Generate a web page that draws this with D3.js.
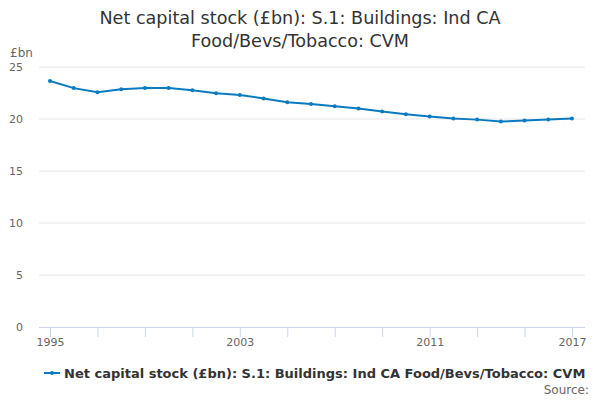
<!DOCTYPE html>
<html>
<head>
<meta charset="utf-8">
<script src="https://cdn.jsdelivr.net/npm/d3@7"></script>
<style>
  body { margin: 0; background: #fff; }
  svg { font-family: "DejaVu Sans", sans-serif; }
</style>
</head>
<body>
<div id="chart"></div>
<script>
const years = d3.range(1995, 2018);
const values = [23.66, 22.97, 22.58, 22.85, 22.97, 22.97, 22.77, 22.48, 22.3, 21.98, 21.6, 21.44,
                21.22, 21.01, 20.73, 20.45, 20.25, 20.04, 19.94, 19.76, 19.85, 19.95, 20.04];
const yTicks = [0, 5, 10, 15, 20, 25];
const xTicks = d3.range(1995, 2018, 2);
const xLabels = [1995, 2003, 2011, 2017];
const seriesName = "Net capital stock (£bn): S.1: Buildings: Ind CA Food/Bevs/Tobacco: CVM";
const titleLines = ["Net capital stock (£bn): S.1: Buildings: Ind CA", "Food/Bevs/Tobacco: CVM"];

const width = 600, height = 400;
const plotLeft = 39, plotRight = 585, plotTop = 67, plotBottom = 327;
const blue = "#0b7bc1";

const svg = d3.select("#chart").append("svg")
  .attr("width", width).attr("height", height)
  .attr("viewBox", [0, 0, width, height]);

const x = d3.scaleLinear().domain([1995, 2017]).range([50, 572]);
const y = d3.scaleLinear().domain([0, 25]).range([plotBottom, plotTop]);

// title
svg.append("text")
  .attr("x", width / 2).attr("y", 24)
  .attr("text-anchor", "middle")
  .attr("fill", "#333").style("font-size", "17.6px")
  .selectAll("tspan").data(titleLines).join("tspan")
  .attr("x", width / 2).attr("dy", (d, i) => i ? 23 : 0)
  .text(d => d);

// grid
svg.append("g").selectAll("line").data(yTicks.filter(d => d > 0)).join("line")
  .attr("x1", plotLeft).attr("x2", plotRight)
  .attr("y1", d => y(d)).attr("y2", d => y(d))
  .attr("stroke", "#e6e6e6");

// y axis labels
svg.append("g").selectAll("text").data(yTicks).join("text")
  .attr("x", 23).attr("y", d => y(d) + 4)
  .attr("text-anchor", "end")
  .attr("fill", "#666").style("font-size", "11px")
  .text(d => d);

svg.append("text").attr("x", 10).attr("y", 57)
  .attr("fill", "#666").style("font-size", "12px").text("£bn");

// x axis
const xAxis = svg.append("g")
  .attr("transform", `translate(0,${plotBottom})`)
  .call(d3.axisBottom(x).tickValues(xTicks).tickSize(10)
    .tickFormat(d => xLabels.includes(d) ? d : ""));
xAxis.select(".domain").remove();
xAxis.selectAll(".tick line").attr("stroke", "#ccd6eb");
xAxis.selectAll(".tick text").attr("fill", "#666").attr("y", 11)
  .style("font-size", "11px").style("font-family", "DejaVu Sans, sans-serif");
svg.append("line")
  .attr("x1", plotLeft).attr("x2", plotRight)
  .attr("y1", plotBottom + 0.5).attr("y2", plotBottom + 0.5)
  .attr("stroke", "#ccd6eb");

// series
const data = years.map((d, i) => ({ year: d, value: values[i] }));
svg.append("path").datum(data)
  .attr("fill", "none").attr("stroke", blue).attr("stroke-width", 2)
  .attr("d", d3.line().x(d => x(d.year)).y(d => y(d.value)));
svg.append("g").selectAll("circle").data(data).join("circle")
  .attr("cx", d => x(d.year)).attr("cy", d => y(d.value))
  .attr("r", 2).attr("fill", blue);

// legend
const legend = svg.append("g").attr("transform", "translate(44,373)");
legend.append("line").attr("x1", 0).attr("x2", 16)
  .attr("stroke", blue).attr("stroke-width", 2);
legend.append("circle").attr("cx", 8).attr("r", 2).attr("fill", blue);
legend.append("text").attr("x", 20).attr("y", 5)
  .attr("fill", "#333").style("font-size", "13px").style("font-weight", "bold")
  .text(seriesName);

svg.append("text").attr("x", 589).attr("y", 394)
  .attr("text-anchor", "end").attr("fill", "#666").style("font-size", "12px")
  .text("Source:");
</script>
</body>
</html>
